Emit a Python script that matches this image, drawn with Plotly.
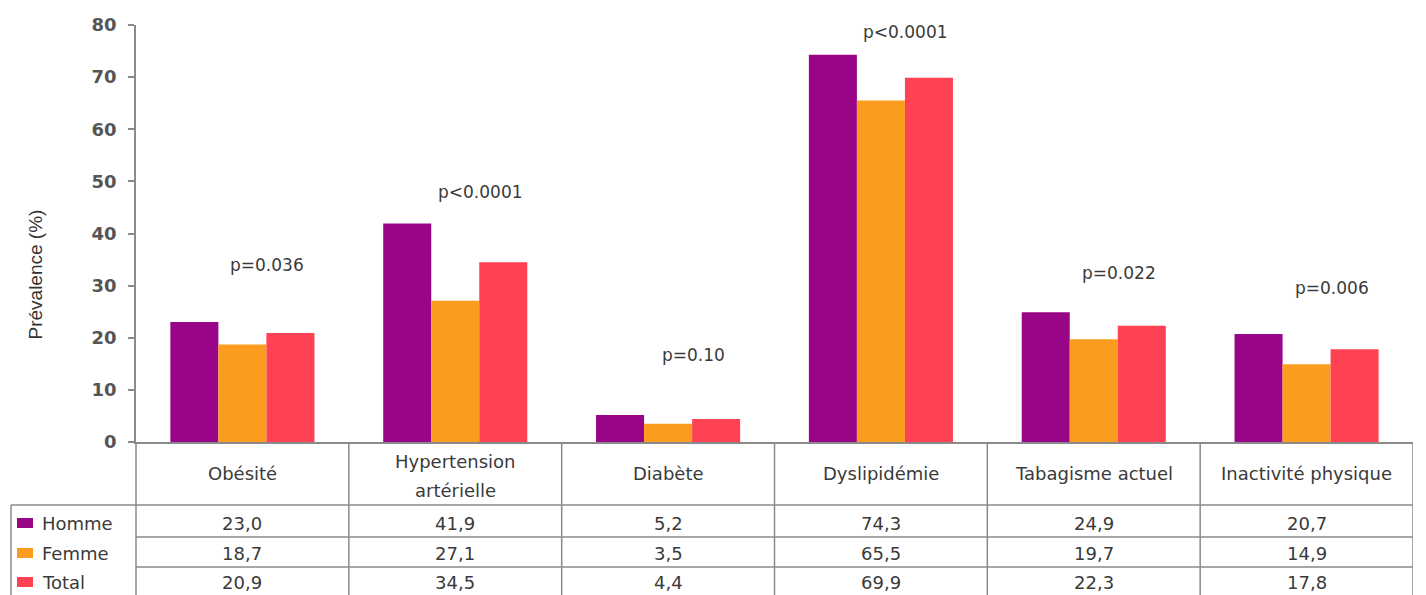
import plotly.graph_objects as go

# ---------------- data ----------------
categories = ["Obésité", "Hypertension<br>artérielle", "Diabète", "Dyslipidémie",
              "Tabagisme actuel", "Inactivité physique"]
series_names = ["Homme", "Femme", "Total"]
homme = [23.0, 41.9, 5.2, 74.3, 24.9, 20.7]
femme = [18.7, 27.1, 3.5, 65.5, 19.7, 14.9]
total = [20.9, 34.5, 4.4, 69.9, 22.3, 17.8]
p_values = ["p=0.036", "p<0.0001", "p=0.10", "p<0.0001", "p=0.022", "p=0.006"]
y_ticks = [0, 10, 20, 30, 40, 50, 60, 70, 80]
y_title = "Prévalence (%)"

# ---------------- style / layout ----------------
colors = ["#990587", "#FC9C1F", "#FE4253"]
p_label_level = [34.0, 48.0, 14.4, 81.0, 32.4, 29.5]  # label heights (axis units)
OFF = 8  # page body margin
W, H = 1426 - OFF, 595 - OFF
ML, MR, MT, MB = 136 - OFF, 13, 25 - OFF, 595 - 442
PW, PH = W - ML - MR, H - MT - MB
FONT = "DejaVu Sans"
TXT = "#3a3a3a"
LINE = "#8a8a8a"
TSIZE = 18


def px_x(px):
    return (px - OFF - ML) / PW


def px_y(py):
    return (H - MB - (py - OFF)) / PH


series = [homme, femme, total]
fig = go.Figure()
for name, vals, col in zip(series_names, series, colors):
    fig.add_trace(go.Bar(x=categories, y=vals, name=name, marker_color=col,
                         marker_line_width=0, showlegend=False))

annotations = []
shapes = []

# p-values
for i, (p, lv) in enumerate(zip(p_values, p_label_level)):
    annotations.append(dict(x=categories[i], y=lv / 80, xref="x", yref="paper",
                            text=p, showarrow=False, xshift=25,
                            font=dict(family=FONT, size=17, color=TXT)))

# y title
annotations.append(dict(x=px_x(22), y=px_y(275), xref="paper", yref="paper",
                        text=y_title, textangle=-90, showarrow=False,
                        font=dict(family="Liberation Sans", size=19, color="#333333")))

# table header
for i, c in enumerate(categories):
    lines = c.split("<br>")
    ys = [473] if len(lines) == 1 else [462, 490]
    for ln, yy in zip(lines, ys):
        annotations.append(dict(x=i, y=px_y(yy), xref="x", yref="paper", text=ln,
                                showarrow=False, yanchor="middle",
                                font=dict(family=FONT, size=TSIZE, color=TXT)))

# table values
row_text_y = [523, 553, 582]
for r, vals in enumerate(series):
    for i, v in enumerate(vals):
        annotations.append(dict(x=i, y=px_y(row_text_y[r]), xref="x", yref="paper",
                                text=f"{v:.1f}".replace(".", ","), showarrow=False,
                                yanchor="middle",
                                font=dict(family=FONT, size=TSIZE, color=TXT)))
    # legend swatch + label
    shapes.append(dict(type="rect", xref="paper", yref="paper",
                       x0=px_x(17), x1=px_x(33), y0=px_y(row_text_y[r] - 5),
                       y1=px_y(row_text_y[r] + 5), fillcolor=colors[r], line_width=0))
    annotations.append(dict(x=px_x(40), y=px_y(row_text_y[r]), xref="paper", yref="paper",
                            text=series_names[r], showarrow=False, xanchor="left",
                            yanchor="middle",
                            font=dict(family=FONT, size=TSIZE, color=TXT)))

# table lines
lw = 1.5
bottom = px_y(H + OFF + 10)
for k in range(len(categories)):
    shapes.append(dict(type="line", xref="x", yref="paper", x0=k + 0.5, x1=k + 0.5,
                       y0=0, y1=bottom, line=dict(color=LINE, width=lw)))
shapes.append(dict(type="line", xref="paper", yref="paper", x0=0, x1=0,
                   y0=0, y1=bottom, line=dict(color=LINE, width=lw)))
shapes.append(dict(type="line", xref="paper", yref="paper", x0=px_x(11), x1=px_x(11),
                   y0=px_y(505), y1=bottom, line=dict(color=LINE, width=lw)))
shapes.append(dict(type="line", xref="paper", yref="paper", x0=px_x(11), x1=1,
                   y0=px_y(505), y1=px_y(505), line=dict(color=LINE, width=lw)))
for yy in [537, 567]:
    shapes.append(dict(type="line", xref="paper", yref="paper", x0=0, x1=1,
                       y0=px_y(yy), y1=px_y(yy), line=dict(color=LINE, width=lw)))

fig.update_layout(
    width=W, height=H,
    margin=dict(l=ML, r=MR, t=MT, b=MB, autoexpand=False),
    paper_bgcolor="white", plot_bgcolor="white",
    barmode="group", bargap=0.323, bargroupgap=0,
    showlegend=False,
    xaxis=dict(range=[-0.5, len(categories) - 0.5], showticklabels=False, ticks="",
               showline=True, linecolor=LINE, linewidth=lw, showgrid=False,
               zeroline=False, fixedrange=True),
    yaxis=dict(range=[0, 80], tickvals=y_ticks, ticks="outside", ticklen=6,
               tickcolor=LINE, tickwidth=lw, showline=True, linecolor=LINE,
               linewidth=lw, showgrid=False, zeroline=False,
               tickfont=dict(family=FONT, size=18, color="#555555", weight="bold"),
               ticklabelstandoff=8),
    annotations=annotations,
    shapes=shapes,
)

fig.write_html("out.html")
